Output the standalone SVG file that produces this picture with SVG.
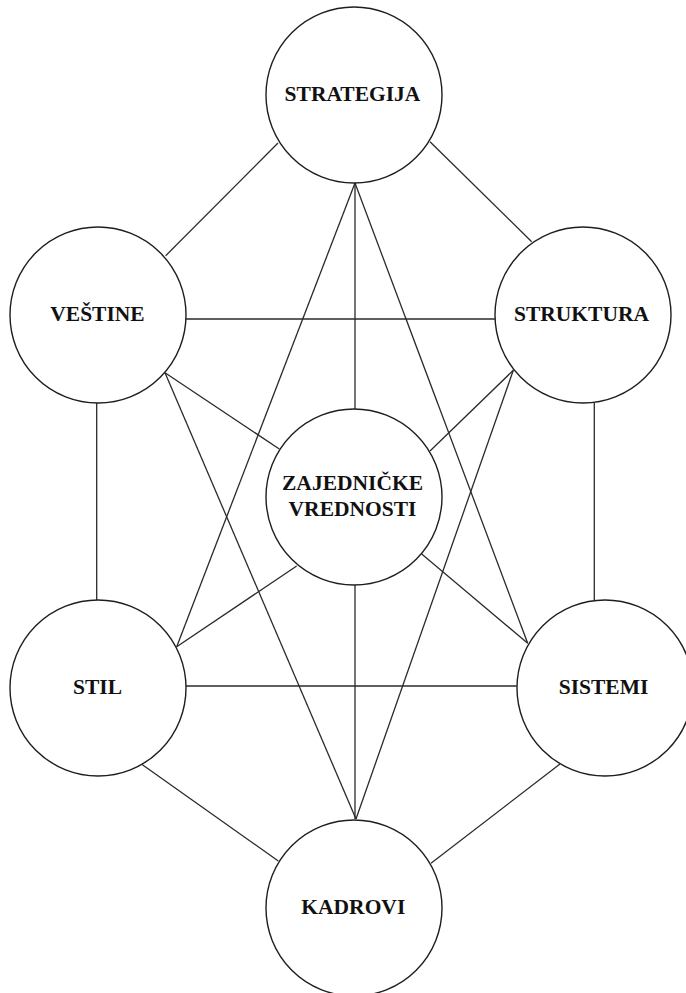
<svg xmlns="http://www.w3.org/2000/svg" width="686" height="993" viewBox="0 0 686 993">
<style>
.bg{fill:#ffffff}
.c line{stroke:#2a2a2a;stroke-width:1.3;fill:none}
.n circle{fill:#ffffff;stroke:#1e1e1e;stroke-width:1.4}
.n text{font-family:"Liberation Serif","Times New Roman",serif;font-weight:bold;font-size:21.5px;fill:#111111;text-anchor:middle}
</style>
<rect class="bg" x="0" y="0" width="686" height="993"/>
<g id="connectors" class="c">
<line x1="278" y1="143" x2="165.7" y2="255.7"/>
<line x1="430" y1="141.7" x2="531.7" y2="241.7"/>
<line x1="186" y1="319" x2="495" y2="319"/>
<line x1="96.7" y1="403" x2="96.7" y2="600"/>
<line x1="594.3" y1="403" x2="594.3" y2="600"/>
<line x1="165" y1="372.7" x2="279.3" y2="449"/>
<line x1="165" y1="372.7" x2="356" y2="819"/>
<line x1="513.3" y1="370.3" x2="430" y2="451"/>
<line x1="513.3" y1="370.3" x2="356" y2="819"/>
<line x1="355" y1="183" x2="176.7" y2="646.7"/>
<line x1="355" y1="183" x2="527.7" y2="643.3"/>
<line x1="355" y1="183" x2="355" y2="409"/>
<line x1="355" y1="585" x2="355" y2="819"/>
<line x1="176.7" y1="646.7" x2="296.7" y2="566"/>
<line x1="527.7" y1="643.3" x2="421.7" y2="554"/>
<line x1="186" y1="686" x2="516.7" y2="686"/>
<line x1="141.7" y1="764.3" x2="278.3" y2="861"/>
<line x1="560" y1="764" x2="431" y2="863.3"/>
</g>
<g id="strategija" class="n"><circle cx="354" cy="95" r="88"/><text x="352.5" y="100.7">STRATEGIJA</text></g>
<g id="vestine" class="n"><circle cx="98" cy="315" r="88"/><text x="97.5" y="320.7">VEŠTINE</text></g>
<g id="struktura" class="n"><circle cx="583" cy="315" r="88"/><text x="581.5" y="320.7">STRUKTURA</text></g>
<g id="zajednicke" class="n"><circle cx="354" cy="497" r="88"/><text x="352.5" y="490">ZAJEDNIČKE</text><text x="352.5" y="516">VREDNOSTI</text></g>
<g id="stil" class="n"><circle cx="98" cy="688" r="88"/><text x="97.5" y="694.3">STIL</text></g>
<g id="sistemi" class="n"><circle cx="605" cy="688" r="88"/><text x="603.5" y="694.3">SISTEMI</text></g>
<g id="kadrovi" class="n"><circle cx="354" cy="908" r="88"/><text x="353.3" y="914.3">KADROVI</text></g>
</svg>
